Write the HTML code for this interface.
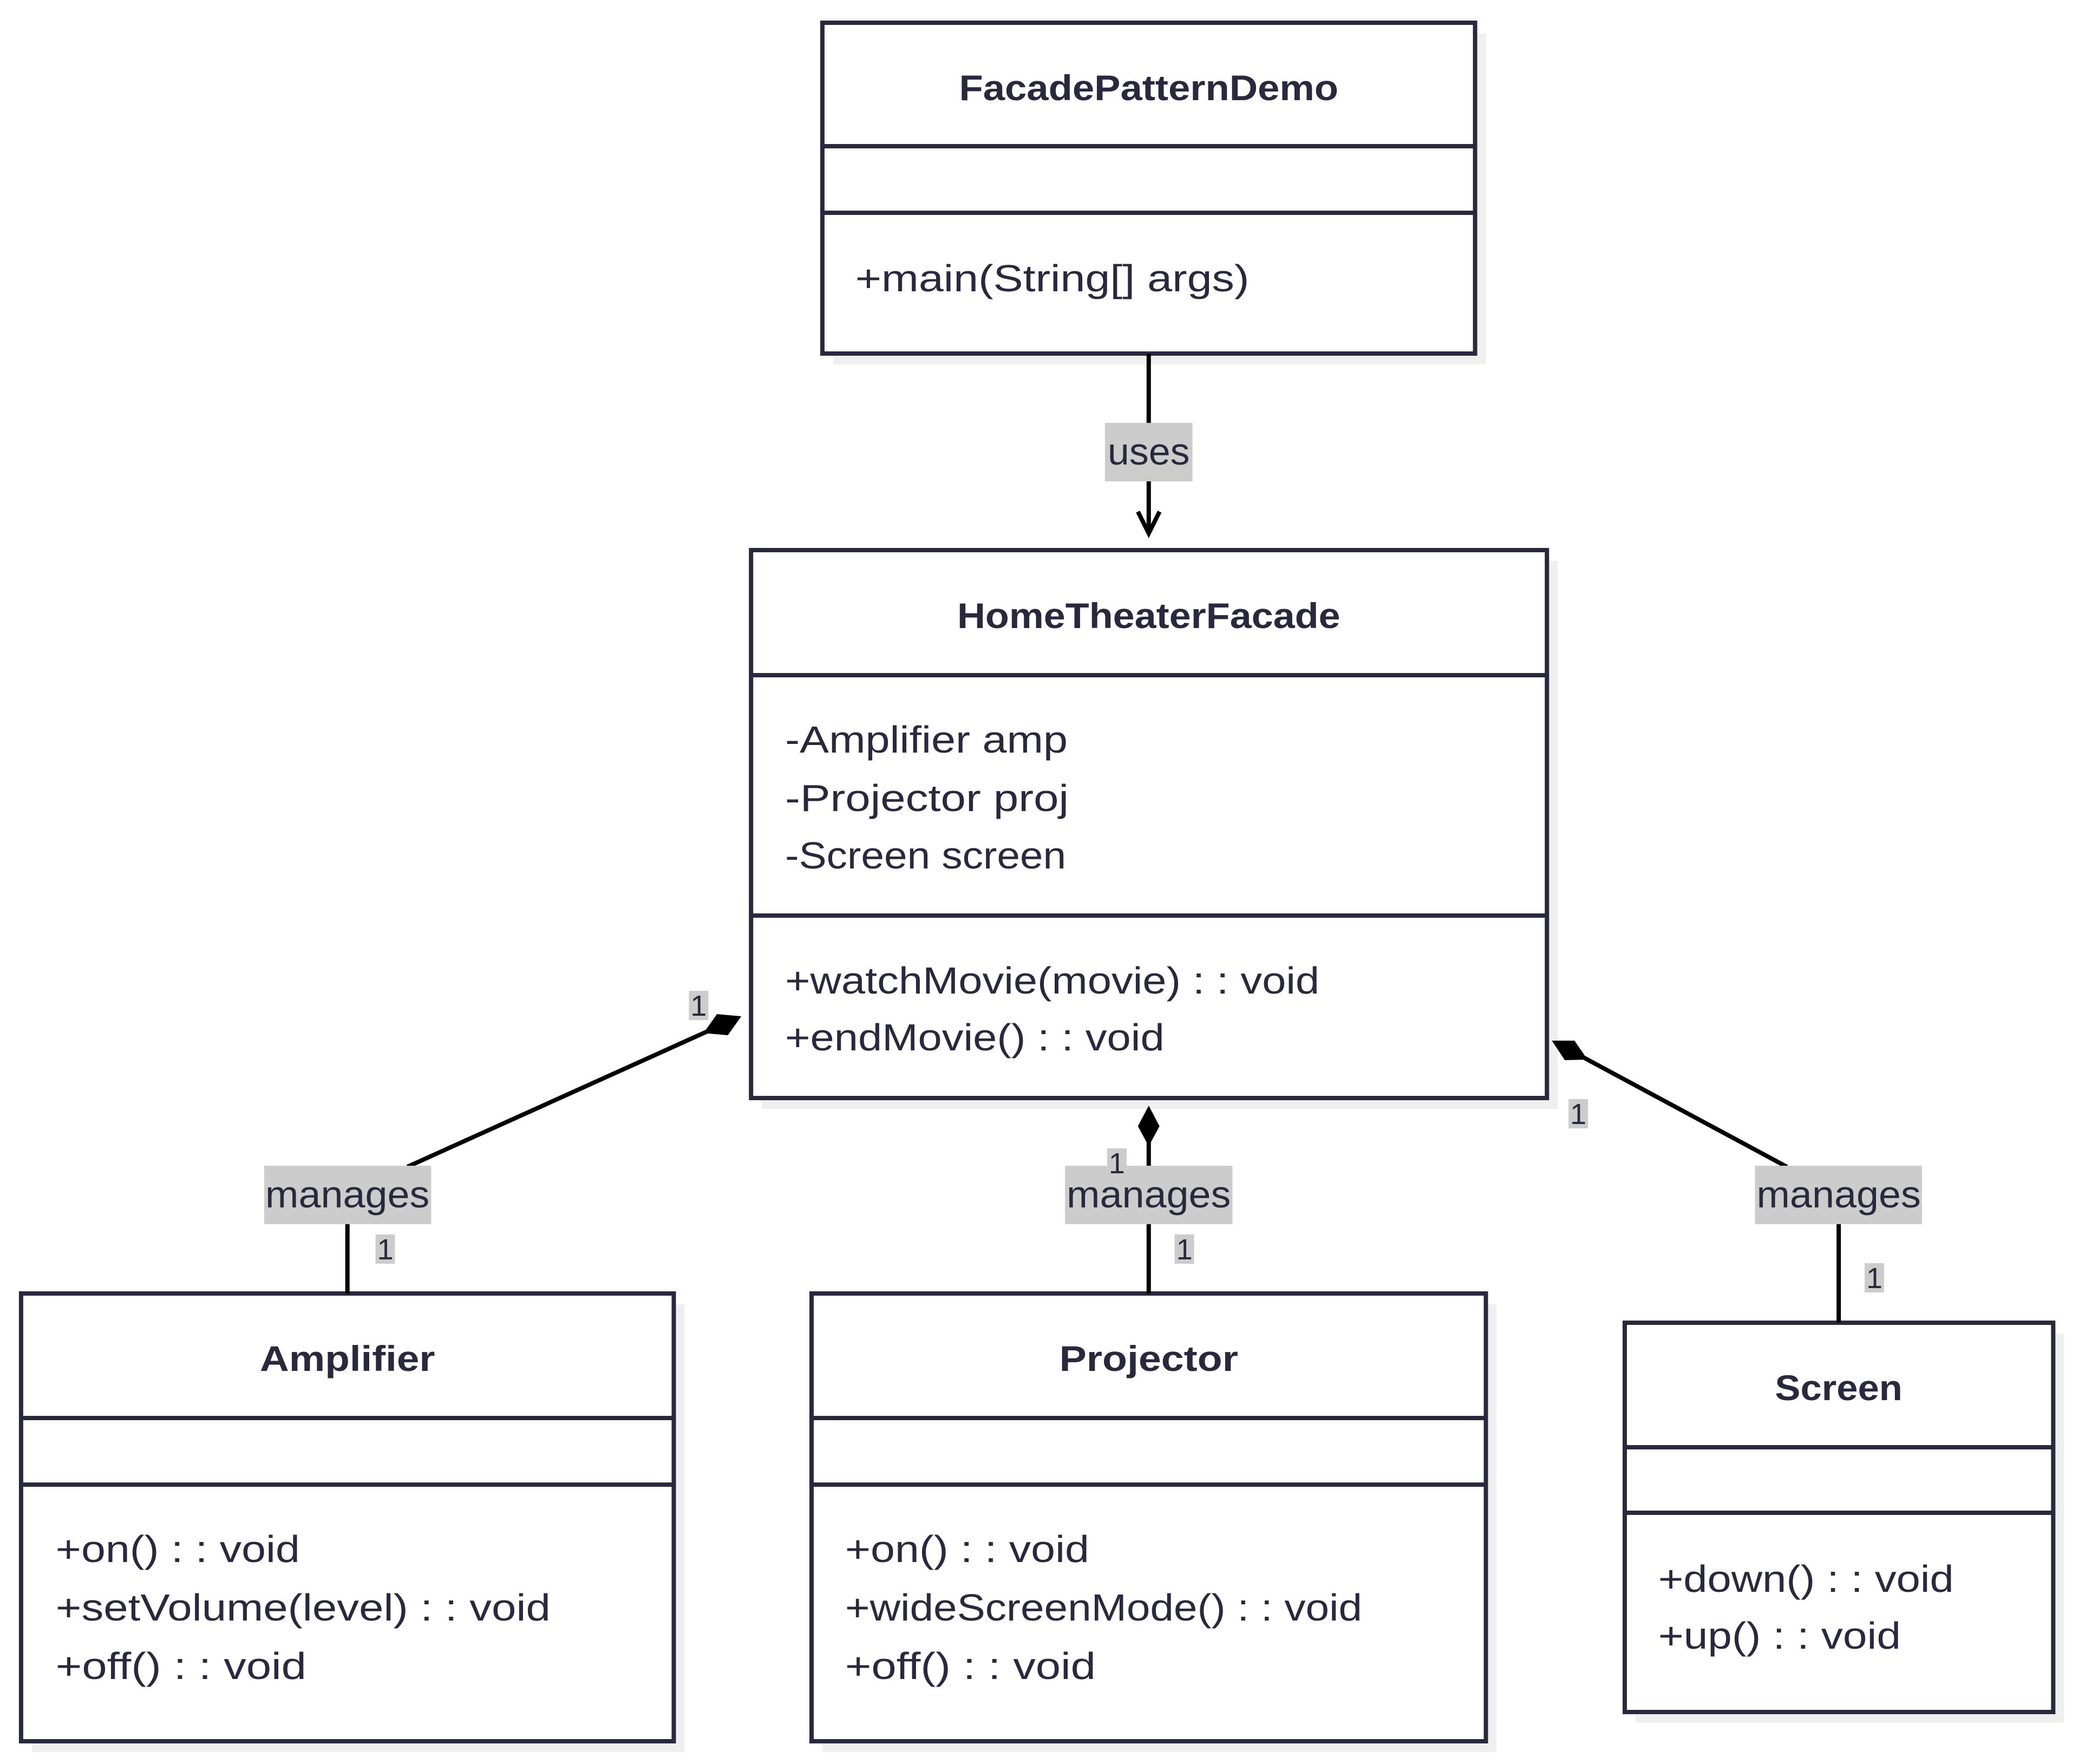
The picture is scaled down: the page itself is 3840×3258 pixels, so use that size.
<!DOCTYPE html>
<html><head><meta charset="utf-8"><style>
html,body{margin:0;padding:0;background:#fff;}
svg{display:block}
text{font-family:"Liberation Sans",sans-serif;fill:#29283d;}
.t{font-weight:bold;font-size:66px;text-anchor:middle}
.m{font-size:70px}
.l{font-size:70px;text-anchor:middle}
.s{font-size:54px;text-anchor:middle}
</style></head><body>
<svg width="3840" height="3258" viewBox="0 0 3840 3258" xmlns="http://www.w3.org/2000/svg">
<g transform="scale(0.998,1)">
<g fill="#efefef">
<rect x="1542" y="62" width="1208" height="611"/>
<rect x="1410" y="1036" width="1473" height="1012"/>
<rect x="59" y="2409" width="1208" height="827"/>
<rect x="1522" y="2409" width="1248" height="827"/>
<rect x="3027" y="2463" width="793" height="719"/>
</g>
<g fill="#fff" stroke="#29283d" stroke-width="8">
<rect x="1522" y="42" width="1208" height="611"/>
<line x1="1522" y1="270" x2="2730" y2="270"/>
<line x1="1522" y1="393" x2="2730" y2="393"/>
<rect x="1390" y="1016" width="1473" height="1012"/>
<line x1="1390" y1="1247" x2="2863" y2="1247"/>
<line x1="1390" y1="1691" x2="2863" y2="1691"/>
<rect x="39" y="2389" width="1208" height="827"/>
<line x1="39" y1="2619" x2="1247" y2="2619"/>
<line x1="39" y1="2742" x2="1247" y2="2742"/>
<rect x="1502" y="2389" width="1248" height="827"/>
<line x1="1502" y1="2619" x2="2750" y2="2619"/>
<line x1="1502" y1="2742" x2="2750" y2="2742"/>
<rect x="3007" y="2443" width="793" height="719"/>
<line x1="3007" y1="2673" x2="3800" y2="2673"/>
<line x1="3007" y1="2794" x2="3800" y2="2794"/>
</g>
<text class="t" x="2126" y="185" textLength="702" lengthAdjust="spacingAndGlyphs">FacadePatternDemo</text>
<text class="m" x="1583" y="538" textLength="729" lengthAdjust="spacingAndGlyphs">+main(String[] args)</text>
<text class="t" x="2126" y="1160" textLength="709" lengthAdjust="spacingAndGlyphs">HomeTheaterFacade</text>
<text class="m" x="1453" y="1390" textLength="523" lengthAdjust="spacingAndGlyphs">-Amplifier amp</text>
<text class="m" x="1453" y="1498" textLength="525" lengthAdjust="spacingAndGlyphs">-Projector proj</text>
<text class="m" x="1453" y="1604" textLength="520" lengthAdjust="spacingAndGlyphs">-Screen screen</text>
<text class="m" x="1453" y="1835" textLength="989" lengthAdjust="spacingAndGlyphs">+watchMovie(movie) : : void</text>
<text class="m" x="1453" y="1940" textLength="702" lengthAdjust="spacingAndGlyphs">+endMovie() : : void</text>
<text class="t" x="643" y="2532" textLength="324" lengthAdjust="spacingAndGlyphs">Amplifier</text>
<text class="m" x="103" y="2885" textLength="452" lengthAdjust="spacingAndGlyphs">+on() : : void</text>
<text class="m" x="103" y="2993" textLength="916" lengthAdjust="spacingAndGlyphs">+setVolume(level) : : void</text>
<text class="m" x="103" y="3101" textLength="464" lengthAdjust="spacingAndGlyphs">+off() : : void</text>
<text class="t" x="2126" y="2532" textLength="331" lengthAdjust="spacingAndGlyphs">Projector</text>
<text class="m" x="1564" y="2885" textLength="452" lengthAdjust="spacingAndGlyphs">+on() : : void</text>
<text class="m" x="1564" y="2993" textLength="957" lengthAdjust="spacingAndGlyphs">+wideScreenMode() : : void</text>
<text class="m" x="1564" y="3101" textLength="464" lengthAdjust="spacingAndGlyphs">+off() : : void</text>
<text class="t" x="3403" y="2586" textLength="236" lengthAdjust="spacingAndGlyphs">Screen</text>
<text class="m" x="3069" y="2940" textLength="547" lengthAdjust="spacingAndGlyphs">+down() : : void</text>
<text class="m" x="3069" y="3045" textLength="449" lengthAdjust="spacingAndGlyphs">+up() : : void</text>
<g stroke="#000" stroke-width="8" fill="none">
<line x1="2126" y1="653" x2="2126" y2="985"/>
<polyline points="2106,945 2126,985 2146,945"/>
<line x1="1320" y1="1900" x2="754" y2="2155"/>
<line x1="643" y1="2200" x2="643" y2="2389"/>
<line x1="2126" y1="2110" x2="2126" y2="2389"/>
<line x1="2925" y1="1950" x2="3307" y2="2155"/>
<line x1="3403" y1="2200" x2="3403" y2="2443"/>
</g>
<g fill="#000">
<polygon points="1372,1877 1347,1912 1302,1908 1327,1873"/>
<polygon points="2126,2042 2146,2080 2126,2117 2106,2080"/>
<polygon points="2872,1922 2896,1958 2938,1957 2914,1922"/>
</g>
<g fill="#cccccc">
<rect x="2045" y="781" width="162" height="108"/>
<rect x="489" y="2153" width="309" height="108"/>
<rect x="1971" y="2153" width="310" height="108"/>
<rect x="3248" y="2153" width="309" height="108"/>
<rect x="1275" y="1830" width="36" height="54"/>
<rect x="695" y="2280" width="36" height="54"/>
<rect x="2049" y="2121" width="36" height="54"/>
<rect x="2174" y="2280" width="36" height="54"/>
<rect x="2903" y="2030" width="36" height="54"/>
<rect x="3451" y="2333" width="36" height="54"/>
</g>
<text class="l" x="2126" y="858" textLength="152" lengthAdjust="spacingAndGlyphs">uses</text>
<text class="l" x="643" y="2230" textLength="304" lengthAdjust="spacingAndGlyphs">manages</text>
<text class="l" x="2126" y="2230" textLength="304" lengthAdjust="spacingAndGlyphs">manages</text>
<text class="l" x="3403" y="2230" textLength="304" lengthAdjust="spacingAndGlyphs">manages</text>
<text class="s" x="1293" y="1876">1</text>
<text class="s" x="713" y="2326">1</text>
<text class="s" x="2067" y="2167">1</text>
<text class="s" x="2192" y="2326">1</text>
<text class="s" x="2921" y="2076">1</text>
<text class="s" x="3469" y="2379">1</text>
</g>
</svg>
</body></html>
